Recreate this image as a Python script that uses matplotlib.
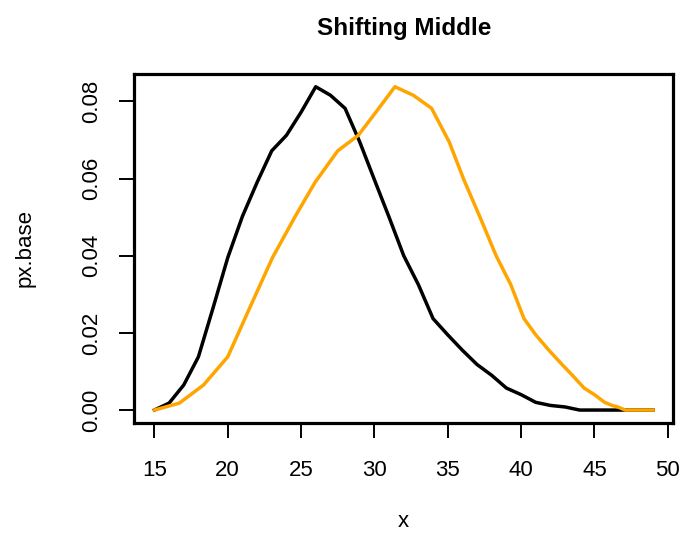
import matplotlib
matplotlib.use("Agg")
import matplotlib.pyplot as plt

# black series: px.base at integer x
x_base = list(range(15, 50))
px_base = [0.0, 0.0018, 0.0065, 0.0138, 0.0265, 0.0395, 0.0502, 0.0590, 0.0672, 0.0712,
           0.0772, 0.0838, 0.0816, 0.0782, 0.0695, 0.0597, 0.0500, 0.0400, 0.0325, 0.0237,
           0.0195, 0.0155, 0.0118, 0.0090, 0.0057, 0.0040, 0.0020, 0.0012, 0.0008, 0.0,
           0.0, 0.0, 0.0, 0.0, 0.0]

# orange series: same density, shifted positions
x_shift = [15.0, 16.7, 18.35, 20.0, 21.5, 23.05, 24.6, 25.95, 27.5, 28.9,
           30.1, 31.4, 32.65, 33.9, 35.1, 36.1, 37.2, 38.3, 39.3, 40.2,
           41.0, 41.9, 42.8, 43.5, 44.3, 45.0, 45.7, 46.2, 46.6, 47.1,
           47.6, 48.0, 48.4, 48.7, 49.0]
px_shift = px_base

x_ticks = [15, 20, 25, 30, 35, 40, 45, 50]
y_ticks = [0.00, 0.02, 0.04, 0.06, 0.08]

plt.rcParams['font.family'] = ['Liberation Sans', 'DejaVu Sans']

fig = plt.figure(figsize=(6.84, 5.34), dpi=100)
ax = fig.add_axes([0.1966, 0.2079, 0.7873, 0.6535])

ax.plot(x_base, px_base, color='black', lw=2.5, solid_joinstyle='round')
ax.plot(x_shift, px_shift, color='#FFA500', lw=2.5, solid_joinstyle='round')

ax.set_xlim(13.64, 50.36)
ax.set_ylim(-0.00335, 0.0871)
ax.set_xticks(x_ticks)
ax.set_xticklabels([str(t) for t in x_ticks])
ax.set_yticks(y_ticks)
ax.set_yticklabels([f"{t:.2f}" for t in y_ticks], rotation=90, va='center')

for s in ax.spines.values():
    s.set_linewidth(2.3)
ax.tick_params(axis='both', length=11, width=1.4, labelsize=16)
ax.tick_params(axis='x', pad=16)
ax.tick_params(axis='y', pad=12)

ax.set_xlabel("x", fontsize=16, labelpad=21)
ax.set_ylabel("px.base", fontsize=16, labelpad=33)
ax.set_title("Shifting Middle", fontsize=17.5, fontweight='bold', pad=28)

fig.savefig("out.png", dpi=100)
